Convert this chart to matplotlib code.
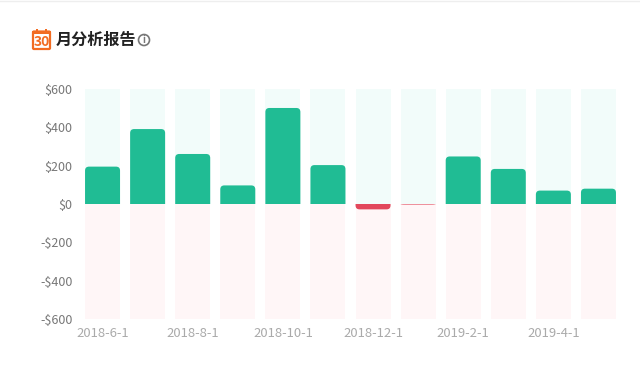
import matplotlib
matplotlib.use('Agg')
import matplotlib.pyplot as plt
from matplotlib.patches import PathPatch, Rectangle, Circle, FancyBboxPatch
from matplotlib.path import Path

plt.rcParams['font.family'] = ['Noto Sans CJK SC', 'DejaVu Sans']

months = ['2018-6-1', '2018-7-1', '2018-8-1', '2018-9-1', '2018-10-1', '2018-11-1',
          '2018-12-1', '2019-1-1', '2019-2-1', '2019-3-1', '2019-4-1', '2019-5-1']
values = [195, 391, 261, 97, 501, 203, -28, -3, 248, 183, 70, 80]
y_ticks = [-600, -400, -200, 0, 200, 400, 600]
y_labels = ['-$600', '-$400', '-$200', '$0', '$200', '$400', '$600']

W, H = 640, 367
fig = plt.figure(figsize=(W / 100, H / 100), dpi=100)
ax = fig.add_axes([80 / W, 1 - 319 / H, 541 / W, 230 / H])
ax.set_xlim(-0.5, 11.5)
ax.set_ylim(-600, 600)

bar_w = 35 / 45.08
xs = range(len(months))
ax.bar(xs, [600] * 12, width=bar_w, color='#f2fcfa', linewidth=0)
ax.bar(xs, [-600] * 12, width=bar_w, color='#fff6f7', linewidth=0)


# bar with rounded far end, radius given in pixels
def round_bar(x, v, color, r=4):
    rx = r / 45.08
    ry = min(r * 1200 / 230, abs(v))
    s = 1 if v > 0 else -1
    l, t = x - bar_w / 2, x + bar_w / 2
    verts = [(l, 0), (l, v - s * ry), (l, v), (l + rx, v), (t - rx, v),
             (t, v), (t, v - s * ry), (t, 0), (l, 0)]
    codes = [Path.MOVETO, Path.LINETO, Path.CURVE3, Path.CURVE3, Path.LINETO,
             Path.CURVE3, Path.CURVE3, Path.LINETO, Path.CLOSEPOLY]
    ax.add_patch(PathPatch(Path(verts, codes), facecolor=color, edgecolor='none', zorder=3))


for i, v in enumerate(values):
    round_bar(i, v, '#20bc94' if v >= 0 else '#e2485c')

for s in ax.spines.values():
    s.set_visible(False)
ax.set_yticks(y_ticks, y_labels)
ax.set_xticks(list(xs)[::2], months[::2])
ax.tick_params(length=0)
ax.tick_params(axis='y', labelsize=9, labelcolor='#777777', pad=5.5)
ax.tick_params(axis='x', labelsize=9.4, labelcolor='#aaaaaa', pad=6)

# overlay in pixel coordinates for header
ov = fig.add_axes([0, 0, 1, 1])
ov.set_xlim(0, W)
ov.set_ylim(H, 0)
ov.axis('off')
ov.patch.set_alpha(0)
ov.plot([0, W], [0.5, 0.5], color='#eeeeee', lw=1)

# calendar icon
ov.add_patch(FancyBboxPatch((33, 31.5), 17, 17.5, boxstyle='round,pad=0,rounding_size=1',
                            fc='white', ec='#f26c22', lw=1.6))
ov.add_patch(Rectangle((32, 31), 19, 3, fc='#f26c22', ec='none'))
ov.add_patch(Rectangle((36, 29), 2, 2.5, fc='#f26c22', ec='none'))
ov.add_patch(Rectangle((45, 29), 2, 2.5, fc='#f26c22', ec='none'))
ov.text(41.5, 41.5, '30', ha='center', va='center', fontsize=10, fontweight='bold', color='#f26c22')

ov.text(55.5, 40, '月分析报告', ha='left', va='center', fontsize=11.6, fontweight='bold', color='#222222')
ov.add_patch(Circle((144, 40), 5.5, fc='white', ec='#777777', lw=1.2))
ov.text(144, 40, 'i', ha='center', va='center', fontsize=7, fontweight='bold', color='#777777')

fig.savefig('out.png', dpi=100)
